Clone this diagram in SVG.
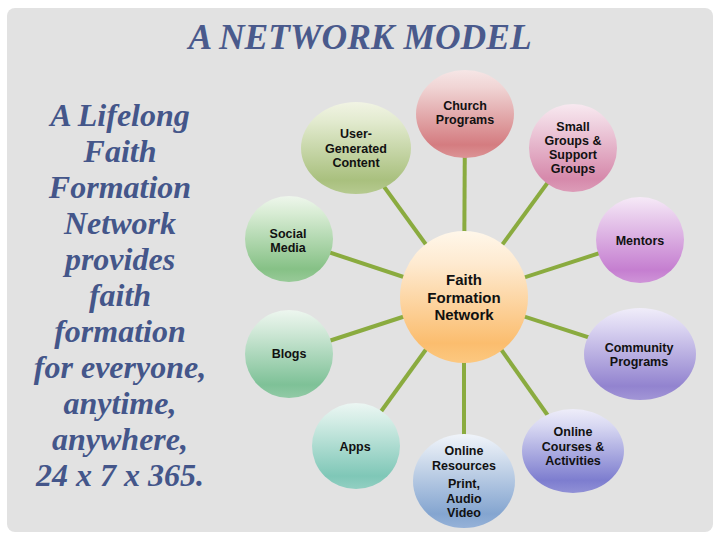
<svg xmlns="http://www.w3.org/2000/svg" width="720" height="540" viewBox="0 0 720 540">
<defs>
<style>
.title{font-family:"Liberation Serif","Times New Roman",serif;font-style:italic;font-weight:bold;fill:#4a5a8c;}
.side{font-family:"Liberation Serif","Times New Roman",serif;font-style:italic;font-weight:bold;font-size:32px;fill:#44568a;text-anchor:middle;}
.lbl{font-family:"Liberation Sans",Arial,sans-serif;font-weight:bold;font-size:12.5px;fill:#111;text-anchor:middle;}
.hub{font-family:"Liberation Sans",Arial,sans-serif;font-weight:bold;font-size:15px;fill:#111;text-anchor:middle;}
.conn line{stroke:#8aab3f;stroke-width:4;}
</style>
<linearGradient id="gChurch" x1="0" y1="0" x2="0" y2="1"><stop offset="0" stop-color="#f6e6e6"/><stop offset="0.2" stop-color="#f0d4d4"/><stop offset="0.85" stop-color="#d47c80"/><stop offset="1" stop-color="#dc9496"/></linearGradient>
<linearGradient id="gUser" x1="0" y1="0" x2="0" y2="1"><stop offset="0" stop-color="#f1f4e4"/><stop offset="0.2" stop-color="#e3ebd0"/><stop offset="0.85" stop-color="#a9c07e"/><stop offset="1" stop-color="#b6ca90"/></linearGradient>
<linearGradient id="gSmall" x1="0" y1="0" x2="0" y2="1"><stop offset="0" stop-color="#f8e9f0"/><stop offset="0.2" stop-color="#f0d4e1"/><stop offset="0.85" stop-color="#d689ab"/><stop offset="1" stop-color="#dc9cb8"/></linearGradient>
<linearGradient id="gSocial" x1="0" y1="0" x2="0" y2="1"><stop offset="0" stop-color="#eef6ec"/><stop offset="0.2" stop-color="#d8ecd4"/><stop offset="0.85" stop-color="#86c186"/><stop offset="1" stop-color="#98ca98"/></linearGradient>
<linearGradient id="gMentors" x1="0" y1="0" x2="0" y2="1"><stop offset="0" stop-color="#f6eaf7"/><stop offset="0.2" stop-color="#ead0ee"/><stop offset="0.85" stop-color="#c57ed0"/><stop offset="1" stop-color="#cf94d8"/></linearGradient>
<linearGradient id="gHub" x1="0" y1="0" x2="0" y2="1"><stop offset="0" stop-color="#fff7ea"/><stop offset="0.25" stop-color="#feead0"/><stop offset="0.85" stop-color="#fbbd6e"/><stop offset="1" stop-color="#fcc880"/></linearGradient>
<linearGradient id="gBlogs" x1="0" y1="0" x2="0" y2="1"><stop offset="0" stop-color="#edf6ef"/><stop offset="0.2" stop-color="#d6ebdc"/><stop offset="0.85" stop-color="#7ec197"/><stop offset="1" stop-color="#92caa6"/></linearGradient>
<linearGradient id="gComm" x1="0" y1="0" x2="0" y2="1"><stop offset="0" stop-color="#f0edf9"/><stop offset="0.2" stop-color="#dcd6f2"/><stop offset="0.85" stop-color="#9283cf"/><stop offset="1" stop-color="#a296d6"/></linearGradient>
<linearGradient id="gApps" x1="0" y1="0" x2="0" y2="1"><stop offset="0" stop-color="#ecf6f3"/><stop offset="0.2" stop-color="#d4ede6"/><stop offset="0.85" stop-color="#7fc7b7"/><stop offset="1" stop-color="#92cfc2"/></linearGradient>
<linearGradient id="gRes" x1="0" y1="0" x2="0" y2="1"><stop offset="0" stop-color="#f0f4fa"/><stop offset="0.2" stop-color="#d9e3f0"/><stop offset="0.85" stop-color="#84a5d0"/><stop offset="1" stop-color="#96b2d8"/></linearGradient>
<linearGradient id="gCourses" x1="0" y1="0" x2="0" y2="1"><stop offset="0" stop-color="#eeedf9"/><stop offset="0.2" stop-color="#d8d8f2"/><stop offset="0.85" stop-color="#7d7dcf"/><stop offset="1" stop-color="#9090d6"/></linearGradient>
</defs>
<rect x="0" y="0" width="720" height="540" fill="#ffffff"/>
<rect x="7" y="8" width="706" height="524" rx="8" fill="#e2e2e2"/>
<text class="title" x="360" y="49" font-size="35.5" text-anchor="middle">A NETWORK MODEL</text>
<g id="side-text">
<text class="side" x="120" y="126">A Lifelong</text>
<text class="side" x="120" y="162">Faith</text>
<text class="side" x="120" y="198">Formation</text>
<text class="side" x="120" y="234">Network</text>
<text class="side" x="120" y="270">provides</text>
<text class="side" x="120" y="306">faith</text>
<text class="side" x="120" y="342">formation</text>
<text class="side" x="120" y="378">for everyone,</text>
<text class="side" x="120" y="414">anytime,</text>
<text class="side" x="120" y="450">anywhere,</text>
<text class="side" x="120" y="486">24 x 7 x 365.</text>
</g>
<g id="connectors" class="conn">
<line x1="464" y1="297" x2="465" y2="114"/>
<line x1="464" y1="297" x2="356" y2="148"/>
<line x1="464" y1="297" x2="573" y2="148"/>
<line x1="464" y1="297" x2="289" y2="239"/>
<line x1="464" y1="297" x2="640" y2="240"/>
<line x1="464" y1="297" x2="289" y2="354"/>
<line x1="464" y1="297" x2="640" y2="354"/>
<line x1="464" y1="297" x2="356" y2="446"/>
<line x1="464" y1="297" x2="464" y2="481"/>
<line x1="464" y1="297" x2="573" y2="451"/>
</g>
<g id="church"><ellipse cx="465" cy="114" rx="49" ry="44" fill="url(#gChurch)"/><text class="lbl" x="465" y="110">Church</text><text class="lbl" x="465" y="124">Programs</text></g>
<g id="user"><ellipse cx="356" cy="148" rx="55" ry="46" fill="url(#gUser)"/><text class="lbl" x="356" y="138">User-</text><text class="lbl" x="356" y="152.5">Generated</text><text class="lbl" x="356" y="167">Content</text></g>
<g id="small"><ellipse cx="573" cy="148" rx="44" ry="44" fill="url(#gSmall)"/><text class="lbl" x="573" y="131">Small</text><text class="lbl" x="573" y="145">Groups &amp;</text><text class="lbl" x="573" y="159">Support</text><text class="lbl" x="573" y="173">Groups</text></g>
<g id="social"><ellipse cx="289" cy="239" rx="44" ry="43" fill="url(#gSocial)"/><text class="lbl" x="288" y="238">Social</text><text class="lbl" x="288" y="252">Media</text></g>
<g id="mentors"><ellipse cx="640" cy="240" rx="44" ry="43" fill="url(#gMentors)"/><text class="lbl" x="640" y="245">Mentors</text></g>
<g id="blogs"><ellipse cx="289" cy="354" rx="44" ry="44" fill="url(#gBlogs)"/><text class="lbl" x="289" y="358">Blogs</text></g>
<g id="community"><ellipse cx="640" cy="354" rx="56" ry="46" fill="url(#gComm)"/><text class="lbl" x="639" y="352">Community</text><text class="lbl" x="639" y="366">Programs</text></g>
<g id="apps"><ellipse cx="356" cy="446" rx="44" ry="43" fill="url(#gApps)"/><text class="lbl" x="355" y="451">Apps</text></g>
<g id="resources"><ellipse cx="464" cy="481" rx="51" ry="47" fill="url(#gRes)"/><text class="lbl" x="464" y="455">Online</text><text class="lbl" x="464" y="470">Resources</text><text class="lbl" x="464" y="488">Print,</text><text class="lbl" x="464" y="503">Audio</text><text class="lbl" x="464" y="517">Video</text></g>
<g id="courses"><ellipse cx="573" cy="451" rx="51" ry="42" fill="url(#gCourses)"/><text class="lbl" x="573" y="436">Online</text><text class="lbl" x="573" y="450.5">Courses &amp;</text><text class="lbl" x="573" y="464.5">Activities</text></g>
<g id="hub"><ellipse cx="464" cy="297" rx="64" ry="66" fill="url(#gHub)"/><text class="hub" x="464" y="285">Faith</text><text class="hub" x="464" y="302.5">Formation</text><text class="hub" x="464" y="320">Network</text></g>
</svg>
